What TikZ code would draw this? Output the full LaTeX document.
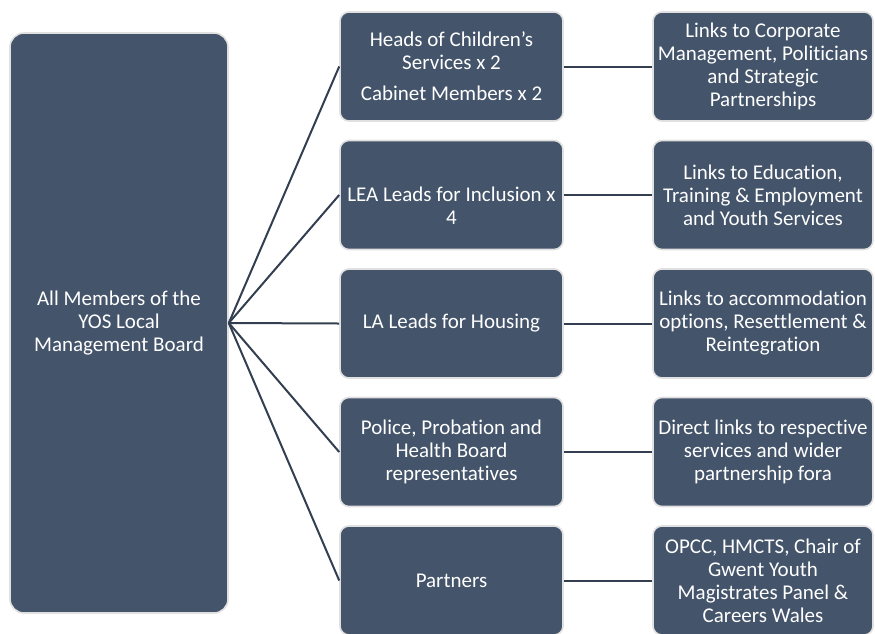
\documentclass[tikz,border=0pt]{standalone}
\usepackage{fontspec}
\setmainfont{Carlito}[Ligatures=TeX, RawFeature={-liga;-clig;-dlig;-calt}]
\definecolor{boxblue}{HTML}{44546A}
\definecolor{boxrim}{HTML}{E0E0E0}
\definecolor{wireblue}{HTML}{333F50}
\tikzset{
  board/.style={draw=boxrim, line width=1.6pt, fill=boxblue, rounded corners=14pt,
    text=white, align=center, inner sep=0pt, minimum width=218pt, minimum height=580pt,
    font=\fontsize{21}{23}\selectfont},
  member/.style={board, rounded corners=9pt, minimum width=223pt, minimum height=109pt},
  links/.style={member, minimum width=220pt},
  wire/.style={draw=wireblue, line width=2pt}
}
\begin{document}
\begin{tikzpicture}[x=1pt, y=-1pt]
  \useasboundingbox (0,0) rectangle (875,633);

  % Board box
  \node[board] (all) at (119,323) {All Members of the\\YOS Local\\Management Board};

  % Member boxes
  \node[member] (heads) at (451.5,66.5) {Heads of Children’s\\Services x 2\\[8pt]Cabinet Members x 2};
  \node[member] (lea) at (451.5,195) {\mbox{}\\[12pt]LEA Leads for Inclusion x\\4};
  \node[member] (housing) at (451.5,323.5) {LA Leads for Housing};
  \node[member] (police) at (451.5,452) {Police, Probation and\\Health Board\\representatives};
  \node[member] (partners) at (451.5,580.5) {Partners};

  % Links boxes
  \node[links] (corp) at (763,66.5) {Links to Corporate\\Management, Politicians\\and Strategic\\Partnerships};
  \node[links] (edu) at (763,195) {Links to Education,\\Training \& Employment\\and  Youth Services};
  \node[links] (accom) at (763,323.5) {Links to accommodation\\options, Resettlement \&\\Reintegration};
  \node[links] (direct) at (763,452) {Direct links to respective\\services and wider\\partnership fora};
  \node[links] (opcc) at (763,580.5) {OPCC, HMCTS, Chair of\\Gwent Youth\\Magistrates Panel \&\\Careers Wales};

  % Fan out from the board
  \foreach \m in {heads,lea,housing,police,partners}
    \draw[wire] (all.east) -- (\m.west);

  % Member to links
  \draw[wire] (heads.east) -- (corp.west);
  \draw[wire] (lea.east) -- (edu.west);
  \draw[wire] (housing.east) -- (accom.west);
  \draw[wire] (police.east) -- (direct.west);
  \draw[wire] (partners.east) -- (opcc.west);
\end{tikzpicture}
\end{document}
